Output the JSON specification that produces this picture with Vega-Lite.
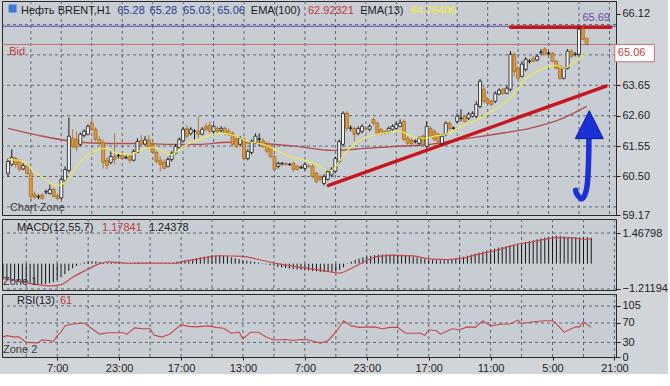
{
"$schema":"https://vega.github.io/schema/vega-lite/v6.json",
"padding":0,
"background":"#d1d4d8",
"spacing":4,
"bounds":"flush",
"config":{
"view":{"stroke":"#2a2a2a","fill":"#c8cdd4","strokeWidth":1},
"font":"Liberation Sans",
"axis":{"labelFont":"Liberation Sans","labelFontSize":11,"labelColor":"#1e1e1e","tickColor":"#1e1e1e","domainColor":"#2a2a2a","labelOverlap":false,"labelFlush":false,"labelBound":false,"grid":false},
"text":{"font":"Liberation Sans","fontSize":11}
},
"datasets":{
"bars":[
{"i":0,"o":60.61,"h":61.12,"l":60.50,"c":61.02,"m":-0.72},
{"i":1,"o":60.92,"h":61.44,"l":60.85,"c":61.16,"m":-0.75},
{"i":2,"o":61.12,"h":61.19,"l":60.81,"c":60.92,"m":-0.78},
{"i":3,"o":61.02,"h":61.09,"l":60.68,"c":60.74,"m":-0.80},
{"i":4,"o":60.76,"h":60.96,"l":60.72,"c":60.88,"m":-0.83},
{"i":5,"o":60.85,"h":60.95,"l":60.54,"c":60.61,"m":-0.86},
{"i":6,"o":60.61,"h":60.68,"l":59.64,"c":59.81,"m":-0.90},
{"i":7,"o":59.88,"h":59.98,"l":59.71,"c":59.78,"m":-0.93},
{"i":8,"o":59.79,"h":59.88,"l":59.71,"c":59.81,"m":-0.95},
{"i":9,"o":59.86,"h":59.93,"l":59.69,"c":59.74,"m":-0.97},
{"i":10,"o":59.96,"h":60.05,"l":59.88,"c":59.98,"m":-0.98},
{"i":11,"o":59.91,"h":60.22,"l":59.88,"c":60.05,"m":-0.97},
{"i":12,"o":60.05,"h":60.12,"l":59.78,"c":59.81,"m":-0.93},
{"i":13,"o":59.84,"h":59.91,"l":59.67,"c":59.74,"m":-0.88},
{"i":14,"o":59.76,"h":60.47,"l":59.71,"c":60.40,"m":-0.78},
{"i":15,"o":60.36,"h":60.85,"l":60.29,"c":60.74,"m":-0.65},
{"i":16,"o":60.71,"h":62.54,"l":60.64,"c":61.89,"m":-0.50},
{"i":17,"o":61.82,"h":62.13,"l":61.47,"c":61.54,"m":-0.34},
{"i":18,"o":61.78,"h":62.06,"l":61.37,"c":61.51,"m":-0.22},
{"i":19,"o":61.61,"h":62.02,"l":61.54,"c":61.96,"m":-0.11},
{"i":20,"o":61.92,"h":62.13,"l":61.85,"c":62.06,"m":-0.03},
{"i":21,"o":61.96,"h":62.30,"l":61.92,"c":62.23,"m":0.06},
{"i":22,"o":62.34,"h":62.51,"l":62.06,"c":62.13,"m":0.10},
{"i":23,"o":62.13,"h":62.20,"l":61.71,"c":61.78,"m":0.12},
{"i":24,"o":61.78,"h":61.89,"l":61.57,"c":61.64,"m":0.11},
{"i":25,"o":61.68,"h":61.78,"l":60.78,"c":60.99,"m":0.08},
{"i":26,"o":61.06,"h":61.16,"l":60.74,"c":60.88,"m":0.05},
{"i":27,"o":60.99,"h":61.37,"l":60.92,"c":61.19,"m":0.04},
{"i":28,"o":61.19,"h":61.99,"l":60.92,"c":61.09,"m":0.05},
{"i":29,"o":61.21,"h":61.30,"l":61.12,"c":61.23,"m":0.04},
{"i":30,"o":61.23,"h":61.30,"l":61.06,"c":61.12,"m":0.03},
{"i":31,"o":61.14,"h":61.23,"l":61.09,"c":61.16,"m":0.04},
{"i":32,"o":61.19,"h":61.26,"l":60.95,"c":61.06,"m":0.03},
{"i":33,"o":61.06,"h":61.44,"l":61.02,"c":61.37,"m":0.04},
{"i":34,"o":61.33,"h":61.82,"l":61.30,"c":61.71,"m":0.06},
{"i":35,"o":61.74,"h":61.92,"l":61.54,"c":61.62,"m":0.06},
{"i":36,"o":61.62,"h":61.89,"l":61.57,"c":61.76,"m":0.05},
{"i":37,"o":61.76,"h":61.92,"l":61.47,"c":61.54,"m":0.05},
{"i":38,"o":61.58,"h":61.75,"l":61.28,"c":61.33,"m":0.04},
{"i":39,"o":61.33,"h":61.40,"l":60.95,"c":61.02,"m":0.03},
{"i":40,"o":61.06,"h":61.19,"l":60.67,"c":60.92,"m":0.02},
{"i":41,"o":60.99,"h":61.09,"l":60.74,"c":60.78,"m":0.03},
{"i":42,"o":60.85,"h":61.16,"l":60.81,"c":61.09,"m":0.04},
{"i":43,"o":61.09,"h":61.37,"l":61.02,"c":61.30,"m":0.05},
{"i":44,"o":61.30,"h":61.61,"l":61.26,"c":61.54,"m":0.07},
{"i":45,"o":61.50,"h":61.85,"l":61.44,"c":61.78,"m":0.10},
{"i":46,"o":61.73,"h":62.20,"l":61.68,"c":62.13,"m":0.13},
{"i":47,"o":62.16,"h":62.27,"l":61.82,"c":61.89,"m":0.16},
{"i":48,"o":61.99,"h":62.20,"l":61.92,"c":62.13,"m":0.19},
{"i":49,"o":62.06,"h":62.13,"l":61.78,"c":62.07,"m":0.23},
{"i":50,"o":62.06,"h":62.58,"l":61.78,"c":61.96,"m":0.27},
{"i":51,"o":61.96,"h":62.20,"l":61.92,"c":62.13,"m":0.30},
{"i":52,"o":62.23,"h":62.34,"l":62.06,"c":62.13,"m":0.34},
{"i":53,"o":62.27,"h":62.40,"l":61.99,"c":62.06,"m":0.37},
{"i":54,"o":62.06,"h":62.30,"l":61.99,"c":62.23,"m":0.39},
{"i":55,"o":62.16,"h":62.23,"l":61.99,"c":62.06,"m":0.40},
{"i":56,"o":62.09,"h":62.23,"l":62.02,"c":62.16,"m":0.40},
{"i":57,"o":62.16,"h":62.23,"l":61.92,"c":61.99,"m":0.38},
{"i":58,"o":62.06,"h":62.16,"l":61.89,"c":61.96,"m":0.35},
{"i":59,"o":61.99,"h":62.06,"l":61.54,"c":61.61,"m":0.30},
{"i":60,"o":61.80,"h":61.89,"l":61.47,"c":61.54,"m":0.26},
{"i":61,"o":61.61,"h":61.89,"l":61.54,"c":61.82,"m":0.22},
{"i":62,"o":61.78,"h":61.85,"l":61.06,"c":61.12,"m":0.17},
{"i":63,"o":61.12,"h":61.44,"l":61.06,"c":61.37,"m":0.14},
{"i":64,"o":61.33,"h":61.78,"l":61.26,"c":61.71,"m":0.11},
{"i":65,"o":61.66,"h":61.99,"l":61.61,"c":61.89,"m":0.08},
{"i":66,"o":61.78,"h":61.99,"l":61.54,"c":61.80,"m":0.05},
{"i":67,"o":61.73,"h":61.82,"l":61.47,"c":61.54,"m":0.02},
{"i":68,"o":61.60,"h":61.71,"l":61.30,"c":61.37,"m":-0.03},
{"i":69,"o":61.50,"h":61.61,"l":61.12,"c":61.19,"m":-0.07},
{"i":70,"o":61.19,"h":61.26,"l":60.67,"c":60.74,"m":-0.11},
{"i":71,"o":60.85,"h":61.02,"l":60.78,"c":60.95,"m":-0.15},
{"i":72,"o":60.94,"h":61.00,"l":60.88,"c":60.96,"m":-0.18},
{"i":73,"o":60.95,"h":61.00,"l":60.86,"c":60.91,"m":-0.21},
{"i":74,"o":60.91,"h":60.97,"l":60.86,"c":60.92,"m":-0.24},
{"i":75,"o":60.95,"h":61.02,"l":60.67,"c":60.74,"m":-0.26},
{"i":76,"o":60.85,"h":60.90,"l":60.70,"c":60.74,"m":-0.28},
{"i":77,"o":60.80,"h":60.88,"l":60.76,"c":60.82,"m":-0.30},
{"i":78,"o":60.78,"h":60.99,"l":60.71,"c":60.92,"m":-0.32},
{"i":79,"o":60.86,"h":60.92,"l":60.80,"c":60.85,"m":-0.33},
{"i":80,"o":60.85,"h":60.92,"l":60.43,"c":60.50,"m":-0.35},
{"i":81,"o":60.61,"h":60.67,"l":60.26,"c":60.33,"m":-0.37},
{"i":82,"o":60.50,"h":60.55,"l":60.33,"c":60.40,"m":-0.39},
{"i":83,"o":60.26,"h":60.57,"l":60.19,"c":60.50,"m":-0.40},
{"i":84,"o":60.40,"h":60.74,"l":60.36,"c":60.67,"m":-0.40},
{"i":85,"o":60.55,"h":60.82,"l":60.50,"c":60.75,"m":-0.39},
{"i":86,"o":60.68,"h":61.19,"l":60.61,"c":61.12,"m":-0.38},
{"i":87,"o":61.02,"h":61.78,"l":60.95,"c":61.71,"m":-0.30},
{"i":88,"o":61.61,"h":62.75,"l":61.54,"c":62.68,"m":-0.18},
{"i":89,"o":62.68,"h":62.75,"l":62.06,"c":62.16,"m":0.02},
{"i":90,"o":62.16,"h":62.27,"l":62.06,"c":62.18,"m":0.10},
{"i":91,"o":62.16,"h":62.23,"l":61.71,"c":61.96,"m":0.18},
{"i":92,"o":61.99,"h":62.23,"l":61.92,"c":62.16,"m":0.24},
{"i":93,"o":62.06,"h":62.30,"l":61.99,"c":62.23,"m":0.30},
{"i":94,"o":62.17,"h":62.23,"l":62.09,"c":62.16,"m":0.34},
{"i":95,"o":62.13,"h":62.30,"l":62.06,"c":62.23,"m":0.38},
{"i":96,"o":62.47,"h":62.54,"l":62.27,"c":62.34,"m":0.41},
{"i":97,"o":62.34,"h":62.40,"l":61.92,"c":61.99,"m":0.43},
{"i":98,"o":62.13,"h":62.16,"l":61.92,"c":61.99,"m":0.44},
{"i":99,"o":62.06,"h":62.09,"l":61.95,"c":61.99,"m":0.45},
{"i":100,"o":62.06,"h":62.23,"l":61.99,"c":62.16,"m":0.45},
{"i":101,"o":62.13,"h":62.30,"l":62.09,"c":62.23,"m":0.45},
{"i":102,"o":62.16,"h":62.40,"l":62.13,"c":62.30,"m":0.44},
{"i":103,"o":62.23,"h":62.47,"l":62.20,"c":62.34,"m":0.43},
{"i":104,"o":62.40,"h":62.47,"l":61.71,"c":61.78,"m":0.41},
{"i":105,"o":61.82,"h":61.89,"l":61.57,"c":61.64,"m":0.38},
{"i":106,"o":61.75,"h":61.82,"l":61.57,"c":61.64,"m":0.34},
{"i":107,"o":61.70,"h":61.78,"l":61.64,"c":61.72,"m":0.30},
{"i":108,"o":61.64,"h":61.89,"l":61.57,"c":61.82,"m":0.26},
{"i":109,"o":61.89,"h":61.96,"l":61.54,"c":61.61,"m":0.22},
{"i":110,"o":61.54,"h":62.40,"l":61.47,"c":62.23,"m":0.20},
{"i":111,"o":62.16,"h":62.23,"l":61.82,"c":61.89,"m":0.18},
{"i":112,"o":62.06,"h":62.13,"l":61.71,"c":61.78,"m":0.17},
{"i":113,"o":61.96,"h":62.02,"l":61.64,"c":61.71,"m":0.16},
{"i":114,"o":61.64,"h":61.96,"l":61.57,"c":61.89,"m":0.17},
{"i":115,"o":61.96,"h":62.40,"l":61.89,"c":62.34,"m":0.18},
{"i":116,"o":62.34,"h":62.40,"l":62.09,"c":62.16,"m":0.21},
{"i":117,"o":62.16,"h":62.23,"l":62.09,"c":62.18,"m":0.25},
{"i":118,"o":62.40,"h":62.68,"l":62.34,"c":62.58,"m":0.29},
{"i":119,"o":62.50,"h":62.82,"l":62.40,"c":62.52,"m":0.33},
{"i":120,"o":62.58,"h":62.62,"l":62.36,"c":62.40,"m":0.38},
{"i":121,"o":62.51,"h":62.72,"l":62.45,"c":62.65,"m":0.43},
{"i":122,"o":62.58,"h":62.75,"l":62.54,"c":62.68,"m":0.48},
{"i":123,"o":62.58,"h":63.10,"l":62.51,"c":62.99,"m":0.53},
{"i":124,"o":62.92,"h":63.86,"l":62.86,"c":63.79,"m":0.58},
{"i":125,"o":63.51,"h":63.62,"l":63.03,"c":63.10,"m":0.63},
{"i":126,"o":63.17,"h":63.22,"l":62.96,"c":63.03,"m":0.68},
{"i":127,"o":63.10,"h":63.14,"l":62.93,"c":62.99,"m":0.72},
{"i":128,"o":63.10,"h":63.44,"l":63.03,"c":63.37,"m":0.77},
{"i":129,"o":63.34,"h":63.55,"l":63.30,"c":63.48,"m":0.80},
{"i":130,"o":63.51,"h":63.55,"l":63.32,"c":63.37,"m":0.84},
{"i":131,"o":63.37,"h":63.62,"l":63.34,"c":63.55,"m":0.88},
{"i":132,"o":63.51,"h":64.83,"l":63.44,"c":64.72,"m":0.92},
{"i":133,"o":64.72,"h":64.79,"l":63.96,"c":64.13,"m":0.96},
{"i":134,"o":64.24,"h":64.31,"l":63.82,"c":63.89,"m":1.00},
{"i":135,"o":63.96,"h":64.48,"l":63.92,"c":64.38,"m":1.04},
{"i":136,"o":64.20,"h":64.62,"l":64.13,"c":64.55,"m":1.08},
{"i":137,"o":64.47,"h":64.55,"l":64.40,"c":64.49,"m":1.12},
{"i":138,"o":64.58,"h":64.65,"l":64.44,"c":64.48,"m":1.17},
{"i":139,"o":64.52,"h":64.72,"l":64.48,"c":64.65,"m":1.21},
{"i":140,"o":64.78,"h":64.90,"l":64.69,"c":64.80,"m":1.25},
{"i":141,"o":64.90,"h":64.96,"l":64.68,"c":64.72,"m":1.29},
{"i":142,"o":64.75,"h":64.82,"l":64.70,"c":64.76,"m":1.32},
{"i":143,"o":64.76,"h":64.80,"l":64.44,"c":64.48,"m":1.34},
{"i":144,"o":64.48,"h":64.52,"l":64.20,"c":64.24,"m":1.33},
{"i":145,"o":64.31,"h":64.35,"l":63.82,"c":63.89,"m":1.30},
{"i":146,"o":63.89,"h":64.28,"l":63.85,"c":64.24,"m":1.28},
{"i":147,"o":64.24,"h":64.90,"l":64.20,"c":64.83,"m":1.28},
{"i":148,"o":64.83,"h":64.90,"l":64.60,"c":64.65,"m":1.27},
{"i":149,"o":64.71,"h":64.80,"l":64.65,"c":64.73,"m":1.26},
{"i":150,"o":64.72,"h":65.69,"l":64.68,"c":65.59,"m":1.28},
{"i":151,"o":65.59,"h":65.66,"l":65.20,"c":65.24,"m":1.27},
{"i":152,"o":65.28,"h":65.28,"l":65.03,"c":65.06,"m":1.24}
],
"ema13":[{"i":0,"v":61.09},{"i":4,"v":61.02},{"i":6,"v":60.78},{"i":9,"v":60.47},{"i":13,"v":60.19},{"i":14,"v":60.22},{"i":16,"v":60.47},{"i":17,"v":60.67},{"i":19,"v":61.02},{"i":21,"v":61.26},{"i":24,"v":61.44},{"i":26,"v":61.47},{"i":28,"v":61.33},{"i":32,"v":61.26},{"i":36,"v":61.47},{"i":38,"v":61.51},{"i":40,"v":61.40},{"i":43,"v":61.26},{"i":46,"v":61.54},{"i":50,"v":61.78},{"i":53,"v":61.92},{"i":57,"v":61.99},{"i":60,"v":61.89},{"i":63,"v":61.71},{"i":67,"v":61.61},{"i":70,"v":61.44},{"i":74,"v":61.19},{"i":77,"v":61.09},{"i":81,"v":60.92},{"i":83,"v":60.74},{"i":85,"v":60.71},{"i":87,"v":61.02},{"i":90,"v":61.51},{"i":93,"v":61.78},{"i":98,"v":61.99},{"i":103,"v":62.06},{"i":106,"v":61.89},{"i":109,"v":61.82},{"i":112,"v":61.89},{"i":115,"v":61.96},{"i":119,"v":62.23},{"i":124,"v":62.51},{"i":127,"v":62.75},{"i":130,"v":62.99},{"i":133,"v":63.37},{"i":136,"v":63.86},{"i":140,"v":64.20},{"i":144,"v":64.34},{"i":146,"v":64.24},{"i":149,"v":64.48},{"i":152,"v":64.76}],
"ema100":[{"i":0,"v":62.16},{"i":8,"v":61.92},{"i":17,"v":61.71},{"i":26,"v":61.64},{"i":34,"v":61.64},{"i":43,"v":61.61},{"i":50,"v":61.61},{"i":58,"v":61.68},{"i":67,"v":61.64},{"i":76,"v":61.54},{"i":85,"v":61.40},{"i":94,"v":61.47},{"i":102,"v":61.54},{"i":111,"v":61.61},{"i":119,"v":61.78},{"i":128,"v":61.96},{"i":137,"v":62.16},{"i":145,"v":62.47},{"i":152,"v":62.92}],
"signal":[{"i":0,"s":-0.72},{"i":5,"s":-0.88},{"i":12,"s":-1.06},{"i":15,"s":-1.0},{"i":18,"s":-0.65},{"i":22,"s":-0.26},{"i":25,"s":0.0},{"i":27,"s":0.09},{"i":33,"s":0.02},{"i":38,"s":0.03},{"i":44,"s":0.02},{"i":47,"s":0.12},{"i":52,"s":0.28},{"i":56,"s":0.38},{"i":62,"s":0.35},{"i":66,"s":0.2},{"i":71,"s":0.0},{"i":77,"s":-0.18},{"i":83,"s":-0.34},{"i":87,"s":-0.45},{"i":90,"s":-0.22},{"i":94,"s":0.15},{"i":97,"s":0.35},{"i":101,"s":0.4},{"i":106,"s":0.37},{"i":110,"s":0.23},{"i":115,"s":0.2},{"i":119,"s":0.28},{"i":123,"s":0.46},{"i":128,"s":0.66},{"i":132,"s":0.89},{"i":137,"s":1.05},{"i":141,"s":1.2},{"i":143,"s":1.25},{"i":147,"s":1.24},{"i":150,"s":1.17},{"i":152,"s":1.18}],
"rsi":[{"i":0,"r":41},{"i":1,"r":44},{"i":3,"r":41},{"i":4,"r":42},{"i":6,"r":30},{"i":9,"r":29},{"i":10,"r":35},{"i":12,"r":34},{"i":13,"r":32},{"i":14,"r":44},{"i":15,"r":51},{"i":16,"r":64},{"i":18,"r":68},{"i":21,"r":70},{"i":22,"r":64},{"i":23,"r":58},{"i":25,"r":47},{"i":27,"r":50},{"i":31,"r":50},{"i":32,"r":47},{"i":34,"r":60},{"i":36,"r":58},{"i":38,"r":58},{"i":39,"r":45},{"i":41,"r":41},{"i":43,"r":47},{"i":46,"r":66},{"i":48,"r":63},{"i":50,"r":62},{"i":53,"r":64},{"i":55,"r":61},{"i":57,"r":59},{"i":59,"r":49},{"i":61,"r":51},{"i":62,"r":37},{"i":64,"r":51},{"i":66,"r":51},{"i":68,"r":41},{"i":70,"r":35},{"i":73,"r":36},{"i":75,"r":34},{"i":77,"r":36},{"i":79,"r":35},{"i":82,"r":28.5},{"i":84,"r":34},{"i":86,"r":51},{"i":88,"r":74.5},{"i":90,"r":64},{"i":92,"r":61},{"i":96,"r":62},{"i":98,"r":58},{"i":100,"r":61},{"i":102,"r":61},{"i":104,"r":49},{"i":108,"r":49},{"i":109,"r":44},{"i":110,"r":56},{"i":112,"r":54},{"i":113,"r":47},{"i":116,"r":58},{"i":118,"r":56},{"i":120,"r":62},{"i":122,"r":61},{"i":124,"r":74.5},{"i":126,"r":64},{"i":129,"r":68},{"i":131,"r":68},{"i":133,"r":76},{"i":134,"r":69},{"i":137,"r":72.5},{"i":140,"r":74.5},{"i":142,"r":74.5},{"i":143,"r":68},{"i":145,"r":51},{"i":148,"r":62},{"i":149,"r":62},{"i":150,"r":72.5},{"i":152,"r":61}],
"gridX":[{"i":6},{"i":14},{"i":22},{"i":30},{"i":38},{"i":46},{"i":54},{"i":62},{"i":70},{"i":78},{"i":86},{"i":94},{"i":102},{"i":110},{"i":118},{"i":126},{"i":134},{"i":142},{"i":150},{"i":158}],
"gridMain":[{"g":59.45},{"g":60.5},{"g":61.55},{"g":62.6},{"g":63.65},{"g":64.7},{"g":65.75}],
"gridMacd":[{"g":-1.21194},{"g":1.46798}],
"gridRsi":[{"g":30},{"g":70},{"g":105}],
"trend":[{"i":84.2,"v":60.19,"g":"up"},{"i":157.1,"v":63.62,"g":"up"},{"i":132,"v":65.65,"g":"top"},{"i":158.3,"v":65.65,"g":"top"}],
"shaft":[{"n":0,"i":152.6,"v":61.85},{"n":1,"i":152.5,"v":61.02},{"n":2,"i":152.1,"v":60.16},{"n":3,"i":150.9,"v":59.74},{"n":4,"i":149.5,"v":59.88},{"n":5,"i":149.1,"v":60.02}],
"head":[{"i":152.7,"v":62.29}],
"box":[{"i":159.4,"i2":169.8,"v":65.06,"v2":64.46}],
"icon":[{"i":1.2,"v":66.3}],
"notesMain":[
{"i":3.4,"v":66.21,"t":"Нефть BRENT,H1","k":"dark"},
{"i":28.7,"v":66.21,"t":"65.28","k":"blue"},
{"i":37.2,"v":66.21,"t":"65.28","k":"blue"},
{"i":46.0,"v":66.21,"t":"65.03","k":"blue"},
{"i":55.0,"v":66.21,"t":"65.06","k":"blue"},
{"i":63.8,"v":66.21,"t":"EMA(100)","k":"dark"},
{"i":78.8,"v":66.21,"t":"62.92321","k":"red"},
{"i":92.5,"v":66.21,"t":"EMA(13)","k":"dark"},
{"i":105.7,"v":66.21,"t":"64.76406","k":"yellow"},
{"i":0.3,"v":64.79,"t":"Bid","k":"red"},
{"i":150.9,"v":65.97,"t":"65.69","k":"purple"},
{"i":0.5,"v":59.41,"t":"Chart Zone","k":"grey"},
{"i":160.2,"v":64.76,"t":"65.06","k":"red"}
],
"notesMacd":[
{"i":3.6,"v":1.71,"t":"MACD(12,55,7)","k":"dark"},
{"i":25.6,"v":1.71,"t":"1.17841","k":"red"},
{"i":37.7,"v":1.71,"t":"1.24378","k":"dark"},
{"i":0.0,"v":-0.88,"t":"Zone 1","k":"grey"}
],
"notesRsi":[
{"i":3.6,"v":115,"t":"RSI(13)","k":"dark"},
{"i":14.7,"v":115,"t":"61","k":"red"},
{"i":0.0,"v":15,"t":"Zone 2","k":"grey"}
]
},
"vconcat":[
{
"width":614,"height":214,
"resolve":{"axis":{"x":"independent","y":"independent"}},
"layer":[
{"data":{"name":"gridX"},"mark":{"type":"rule","color":"#5f6670","strokeWidth":1,"strokeDash":[3,3]},
"encoding":{"x":{"field":"i","type":"quantitative","scale":{"domain":[-0.26,158.4],"nice":false,"zero":false},"axis":null}}},
{"data":{"name":"gridMain"},"mark":{"type":"rule","color":"#5f6670","strokeWidth":1,"strokeDash":[3,3]},
"encoding":{"y":{"field":"g","type":"quantitative","scale":{"domain":[59.17,66.56],"nice":false,"zero":false},"axis":{"orient":"right","title":null,"values":[59.17,60.5,61.55,62.6,63.65,66.12],"format":".2f","tickSize":4,"labelPadding":2,"grid":false,"labelOverlap":false}}}},
{"data":{"name":"ema100"},"mark":{"type":"line","color":"#b3504f","strokeWidth":1.4,"interpolate":"monotone"},
"encoding":{"x":{"field":"i","type":"quantitative","axis":null},"y":{"field":"v","type":"quantitative","axis":null}}},
{"data":{"values":[{"v":65.06}]},"mark":{"type":"rule","color":"#c86a6a","strokeWidth":1},
"encoding":{"y":{"field":"v","type":"quantitative","axis":null}}},
{"data":{"values":[{"v":65.69}]},"mark":{"type":"rule","color":"#5a3ca5","strokeWidth":1},
"encoding":{"y":{"field":"v","type":"quantitative","axis":null}}},
{"data":{"name":"trend"},"mark":{"type":"line","color":"#c8161c","strokeWidth":3.5,"strokeCap":"round"},
"encoding":{"x":{"field":"i","type":"quantitative","axis":null},"y":{"field":"v","type":"quantitative","axis":null},"detail":{"field":"g"}}},
{"data":{"name":"bars"},"mark":{"type":"rule","strokeWidth":1},
"encoding":{
"x":{"field":"i","type":"quantitative","axis":null},
"y":{"field":"l","type":"quantitative","axis":null},
"y2":{"field":"h"},
"color":{"condition":{"test":"datum.c >= datum.o","value":"#1a1a1a"},"value":"#b57830"}}},
{"data":{"name":"bars"},"mark":{"type":"bar","size":3,"strokeWidth":0.8},
"encoding":{
"x":{"field":"i","type":"quantitative","axis":null},
"y":{"field":"o","type":"quantitative","axis":null},
"y2":{"field":"c"},
"fill":{"condition":{"test":"datum.c >= datum.o","value":"#f4f4f4"},"value":"#d9993f"},
"stroke":{"condition":{"test":"datum.c >= datum.o","value":"#1a1a1a"},"value":"#a86c22"}}},
{"data":{"name":"ema13"},"mark":{"type":"line","color":"#eeea4c","strokeWidth":1.2,"interpolate":"monotone"},
"encoding":{"x":{"field":"i","type":"quantitative","axis":null},"y":{"field":"v","type":"quantitative","axis":null}}},
{"data":{"name":"shaft"},"mark":{"type":"line","color":"#1a30d8","strokeWidth":5.5,"strokeCap":"round","interpolate":"cardinal"},
"encoding":{"x":{"field":"i","type":"quantitative","axis":null},"y":{"field":"v","type":"quantitative","axis":null},"order":{"field":"n","type":"quantitative"}}},
{"data":{"name":"head"},"mark":{"type":"point","shape":"M0,-1L-1,1L1,1Z","size":784,"filled":true,"color":"#1a30d8","stroke":"#0c1d9a","strokeWidth":1,"opacity":1},
"encoding":{"x":{"field":"i","type":"quantitative","axis":null},"y":{"field":"v","type":"quantitative","axis":null}}},
{"data":{"name":"box"},"mark":{"type":"rect","fill":"#ffffff","stroke":"#d07070","strokeWidth":1},
"encoding":{"x":{"field":"i","type":"quantitative","axis":null},"x2":{"field":"i2"},"y":{"field":"v","type":"quantitative","axis":null},"y2":{"field":"v2"}}},
{"data":{"name":"icon"},"mark":{"type":"square","size":64,"color":"#3a7bd5","opacity":1},
"encoding":{"x":{"field":"i","type":"quantitative","axis":null},"y":{"field":"v","type":"quantitative","axis":null}}},
{"data":{"name":"notesMain"},"mark":{"type":"text","align":"left","baseline":"middle","fontSize":11},
"encoding":{
"x":{"field":"i","type":"quantitative","axis":null},
"y":{"field":"v","type":"quantitative","axis":null},
"text":{"field":"t"},
"color":{"field":"k","type":"nominal","scale":{"domain":["dark","blue","red","yellow","purple","grey"],"range":["#1c1c1c","#2b3a8f","#c43a3a","#f4f03c","#6b4aa5","#3a3a3a"]},"legend":null}}}
]
},
{
"width":614,"height":71,
"resolve":{"axis":{"x":"independent","y":"independent"}},
"layer":[
{"data":{"name":"gridX"},"mark":{"type":"rule","color":"#5f6670","strokeWidth":1,"strokeDash":[3,3]},
"encoding":{"x":{"field":"i","type":"quantitative","scale":{"domain":[-0.26,158.4],"nice":false,"zero":false},"axis":null}}},
{"data":{"name":"gridMacd"},"mark":{"type":"rule","color":"#5f6670","strokeWidth":1,"strokeDash":[3,3]},
"encoding":{"y":{"field":"g","type":"quantitative","scale":{"domain":[-1.26,2.14],"nice":false,"zero":false},"axis":{"orient":"right","title":null,"values":[-1.21194,1.46798],"format":".5f","tickSize":4,"labelPadding":2,"grid":false,"labelOverlap":false}}}},
{"data":{"name":"bars"},"mark":{"type":"rule","color":"#151515","strokeWidth":1},
"encoding":{
"x":{"field":"i","type":"quantitative","axis":null},
"y":{"field":"m","type":"quantitative","axis":null},
"y2":{"datum":0}}},
{"data":{"name":"signal"},"mark":{"type":"line","color":"#c84848","strokeWidth":1.2,"interpolate":"monotone"},
"encoding":{"x":{"field":"i","type":"quantitative","axis":null},"y":{"field":"s","type":"quantitative","axis":null}}},
{"data":{"name":"notesMacd"},"mark":{"type":"text","align":"left","baseline":"middle","fontSize":11},
"encoding":{
"x":{"field":"i","type":"quantitative","axis":null},
"y":{"field":"v","type":"quantitative","axis":null},
"text":{"field":"t"},
"color":{"field":"k","type":"nominal","scale":{"domain":["dark","blue","red","yellow","purple","grey"],"range":["#1c1c1c","#2b3a8f","#c43a3a","#f4f03c","#6b4aa5","#3a3a3a"]},"legend":null}}}
]
},
{
"width":614,"height":63,
"resolve":{"axis":{"x":"independent","y":"independent"}},
"layer":[
{"data":{"name":"gridX"},"mark":{"type":"rule","color":"#5f6670","strokeWidth":1,"strokeDash":[3,3]},
"encoding":{"x":{"field":"i","type":"quantitative","scale":{"domain":[-0.26,158.4],"nice":false,"zero":false},"axis":{"title":null,"values":[14,30,46,62,78,94,110,126,142,158],"grid":false,"tickSize":3,"labelPadding":2,"labelOverlap":false,"labelFlush":false,"labelExpr":"['7:00','23:00','17:00','13:00','7:00','23:00','17:00','11:00','5:00','21:00'][round((datum.value - 14) / 16)]"}}}},
{"data":{"name":"gridRsi"},"mark":{"type":"rule","color":"#5f6670","strokeWidth":1,"strokeDash":[3,3]},
"encoding":{"y":{"field":"g","type":"quantitative","scale":{"domain":[0,129.6],"nice":false,"zero":false},"axis":{"orient":"right","title":null,"values":[0,30,70,105],"format":"d","tickSize":4,"labelPadding":2,"grid":false,"labelOverlap":false}}}},
{"data":{"name":"rsi"},"mark":{"type":"line","color":"#c84848","strokeWidth":1.1},
"encoding":{"x":{"field":"i","type":"quantitative","axis":null},"y":{"field":"r","type":"quantitative","axis":null}}},
{"data":{"name":"notesRsi"},"mark":{"type":"text","align":"left","baseline":"middle","fontSize":11},
"encoding":{
"x":{"field":"i","type":"quantitative","axis":null},
"y":{"field":"v","type":"quantitative","axis":null},
"text":{"field":"t"},
"color":{"field":"k","type":"nominal","scale":{"domain":["dark","blue","red","yellow","purple","grey"],"range":["#1c1c1c","#2b3a8f","#c43a3a","#f4f03c","#6b4aa5","#3a3a3a"]},"legend":null}}}
]
}
]
}
